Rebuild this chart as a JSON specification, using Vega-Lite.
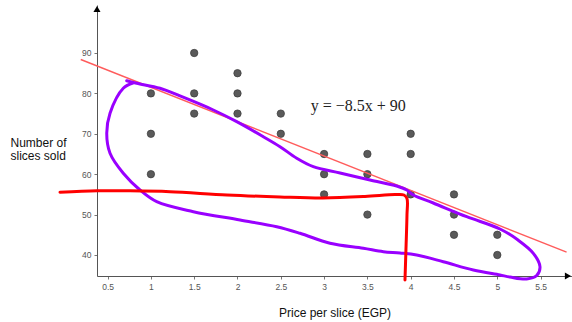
{
  "$schema": "https://vega.github.io/schema/vega-lite/v6.json",
  "width": 475,
  "height": 271,
  "autosize": {"type": "none"},
  "padding": {"left": 97, "top": 5, "right": 0, "bottom": 46},
  "background": "white",
  "config": {"view": {"stroke": null}, "font": "Liberation Sans"},
  "datasets": {
    "points": [
      {"price": 1, "sold": 80}, {"price": 1, "sold": 70}, {"price": 1, "sold": 60},
      {"price": 1.5, "sold": 90}, {"price": 1.5, "sold": 80}, {"price": 1.5, "sold": 75},
      {"price": 2, "sold": 85}, {"price": 2, "sold": 80}, {"price": 2, "sold": 75},
      {"price": 2.5, "sold": 75}, {"price": 2.5, "sold": 70},
      {"price": 3, "sold": 65}, {"price": 3, "sold": 60}, {"price": 3, "sold": 55},
      {"price": 3.5, "sold": 65}, {"price": 3.5, "sold": 60}, {"price": 3.5, "sold": 50},
      {"price": 4, "sold": 70}, {"price": 4, "sold": 65}, {"price": 4, "sold": 55},
      {"price": 4.5, "sold": 55}, {"price": 4.5, "sold": 50}, {"price": 4.5, "sold": 45},
      {"price": 5, "sold": 45}, {"price": 5, "sold": 40}
    ],
    "trend": [
      {"price": 0.19, "sold": 88.385},
      {"price": 5.8, "sold": 40.7}
    ],
    "equation": [
      {"price": 2.845, "sold": 75.64, "label": "y = −8.5x + 90"}
    ],
    "arrows": [
      {"price": 5.816, "sold": 34.8, "dir": "right"},
      {"price": 0.3776, "sold": 100.9, "dir": "up"}
    ],
    "purple": [
      {"order": 1, "price": 0.721, "sold": 83.14},
      {"order": 2, "price": 0.836, "sold": 82.5},
      {"order": 3, "price": 1.105, "sold": 81.26},
      {"order": 4, "price": 1.336, "sold": 79.36},
      {"order": 5, "price": 1.721, "sold": 75.89},
      {"order": 6, "price": 1.991, "sold": 73.0},
      {"order": 7, "price": 2.298, "sold": 69.28},
      {"order": 8, "price": 2.491, "sold": 66.81},
      {"order": 9, "price": 2.684, "sold": 63.94},
      {"order": 10, "price": 2.875, "sold": 61.86},
      {"order": 11, "price": 3.184, "sold": 60.3},
      {"order": 12, "price": 3.53, "sold": 58.56},
      {"order": 13, "price": 3.838, "sold": 57.08},
      {"order": 14, "price": 3.954, "sold": 56.09},
      {"order": 15, "price": 4.03, "sold": 54.85},
      {"order": 16, "price": 4.261, "sold": 52.87},
      {"order": 17, "price": 4.647, "sold": 49.48},
      {"order": 18, "price": 5.031, "sold": 46.44},
      {"order": 19, "price": 5.239, "sold": 43.71},
      {"order": 20, "price": 5.416, "sold": 40.42},
      {"order": 21, "price": 5.493, "sold": 37.1},
      {"order": 22, "price": 5.455, "sold": 34.93},
      {"order": 23, "price": 5.339, "sold": 34.06},
      {"order": 24, "price": 5.147, "sold": 34.55},
      {"order": 25, "price": 5.031, "sold": 35.05},
      {"order": 26, "price": 4.723, "sold": 36.29},
      {"order": 27, "price": 4.376, "sold": 38.34},
      {"order": 28, "price": 4.069, "sold": 40.0},
      {"order": 29, "price": 3.876, "sold": 40.5},
      {"order": 30, "price": 3.684, "sold": 40.82},
      {"order": 31, "price": 3.453, "sold": 41.66},
      {"order": 32, "price": 3.068, "sold": 42.9},
      {"order": 33, "price": 2.722, "sold": 45.37},
      {"order": 34, "price": 2.453, "sold": 47.0},
      {"order": 35, "price": 2.029, "sold": 48.66},
      {"order": 36, "price": 1.49, "sold": 50.72},
      {"order": 37, "price": 1.067, "sold": 53.19},
      {"order": 38, "price": 0.874, "sold": 56.09},
      {"order": 39, "price": 0.681, "sold": 60.22},
      {"order": 40, "price": 0.528, "sold": 65.17},
      {"order": 41, "price": 0.49, "sold": 70.12},
      {"order": 42, "price": 0.528, "sold": 75.07},
      {"order": 43, "price": 0.681, "sold": 81.26},
      {"order": 44, "price": 0.793, "sold": 82.57}
    ],
    "red": [
      {"order": 1, "price": -0.05, "sold": 55.52},
      {"order": 2, "price": 0.378, "sold": 55.89},
      {"order": 3, "price": 0.759, "sold": 55.89},
      {"order": 4, "price": 1.221, "sold": 55.67},
      {"order": 5, "price": 1.879, "sold": 54.85},
      {"order": 6, "price": 2.491, "sold": 54.36},
      {"order": 7, "price": 2.987, "sold": 54.11},
      {"order": 8, "price": 3.472, "sold": 54.48},
      {"order": 9, "price": 3.818, "sold": 54.95},
      {"order": 10, "price": 3.922, "sold": 54.85},
      {"order": 11, "price": 3.957, "sold": 53.99},
      {"order": 12, "price": 3.957, "sold": 49.9},
      {"order": 13, "price": 3.945, "sold": 41.24},
      {"order": 14, "price": 3.934, "sold": 33.81}
    ]
  },
  "encoding": {
    "x": {
      "field": "price",
      "type": "quantitative",
      "scale": {"domain": [0.3776, 5.8626], "nice": false, "zero": false},
      "axis": {
        "title": "Price per slice (EGP)",
        "values": [0.5, 1, 1.5, 2, 2.5, 3, 3.5, 4, 4.5, 5, 5.5],
        "format": "~g",
        "grid": false,
        "domainColor": "#555",
        "domainWidth": 1,
        "tickColor": "#777",
        "tickSize": 3,
        "labelPadding": 3,
        "labelFontSize": 8.5,
        "labelColor": "#555",
        "labelFont": "Liberation Sans",
        "labelFlush": false,
        "titleFont": "Liberation Sans",
        "titleFontSize": 12,
        "titleFontWeight": "normal",
        "titleColor": "#111",
        "titleY": 40,
        "titleBaseline": "alphabetic"
      }
    },
    "y": {
      "field": "sold",
      "type": "quantitative",
      "scale": {"domain": [34.8, 101.88], "nice": false, "zero": false},
      "axis": {
        "title": ["Number of", "slices sold"],
        "values": [40, 50, 60, 70, 80, 90],
        "grid": false,
        "domainColor": "#555",
        "domainWidth": 1,
        "tickColor": "#777",
        "tickSize": 3,
        "labelPadding": 3,
        "labelFontSize": 8.5,
        "labelColor": "#555",
        "labelFont": "Liberation Sans",
        "labelFlush": false,
        "titleFont": "Liberation Sans",
        "titleFontSize": 12,
        "titleFontWeight": "normal",
        "titleColor": "#111",
        "titleAngle": 0,
        "titleAlign": "left",
        "titleBaseline": "alphabetic",
        "titleX": -87,
        "titleY": 141,
        "titleLineHeight": 13
      }
    }
  },
  "layer": [
    {
      "data": {"name": "points"},
      "mark": {"type": "point", "filled": true, "shape": "circle", "size": 55, "fill": "#5a5a5a", "stroke": "#3a3a3a", "strokeWidth": 0.7, "opacity": 1}
    },
    {
      "data": {"name": "trend"},
      "mark": {"type": "line", "color": "#ff5c5c", "strokeWidth": 1.5, "clip": false}
    },
    {
      "data": {"name": "equation"},
      "mark": {"type": "text", "align": "left", "baseline": "alphabetic", "font": "Liberation Serif", "fontSize": 16, "color": "#222"},
      "encoding": {"text": {"field": "label"}}
    },
    {
      "data": {"name": "purple"},
      "mark": {"type": "line", "color": "#9900ff", "strokeWidth": 3, "interpolate": "catmull-rom", "strokeCap": "round", "clip": false},
      "encoding": {"order": {"field": "order", "type": "quantitative"}}
    },
    {
      "data": {"name": "red"},
      "mark": {"type": "line", "color": "#ff0000", "strokeWidth": 3, "interpolate": "catmull-rom", "strokeCap": "round", "clip": false},
      "encoding": {"order": {"field": "order", "type": "quantitative"}}
    },
    {
      "data": {"name": "arrows"},
      "mark": {"type": "point", "filled": true, "size": 50, "fill": "#000", "stroke": null, "opacity": 1, "clip": false},
      "encoding": {
        "shape": {
          "field": "dir",
          "type": "nominal",
          "scale": {"domain": ["right", "up"], "range": ["triangle-right", "triangle-up"]},
          "legend": null
        }
      }
    }
  ]
}
